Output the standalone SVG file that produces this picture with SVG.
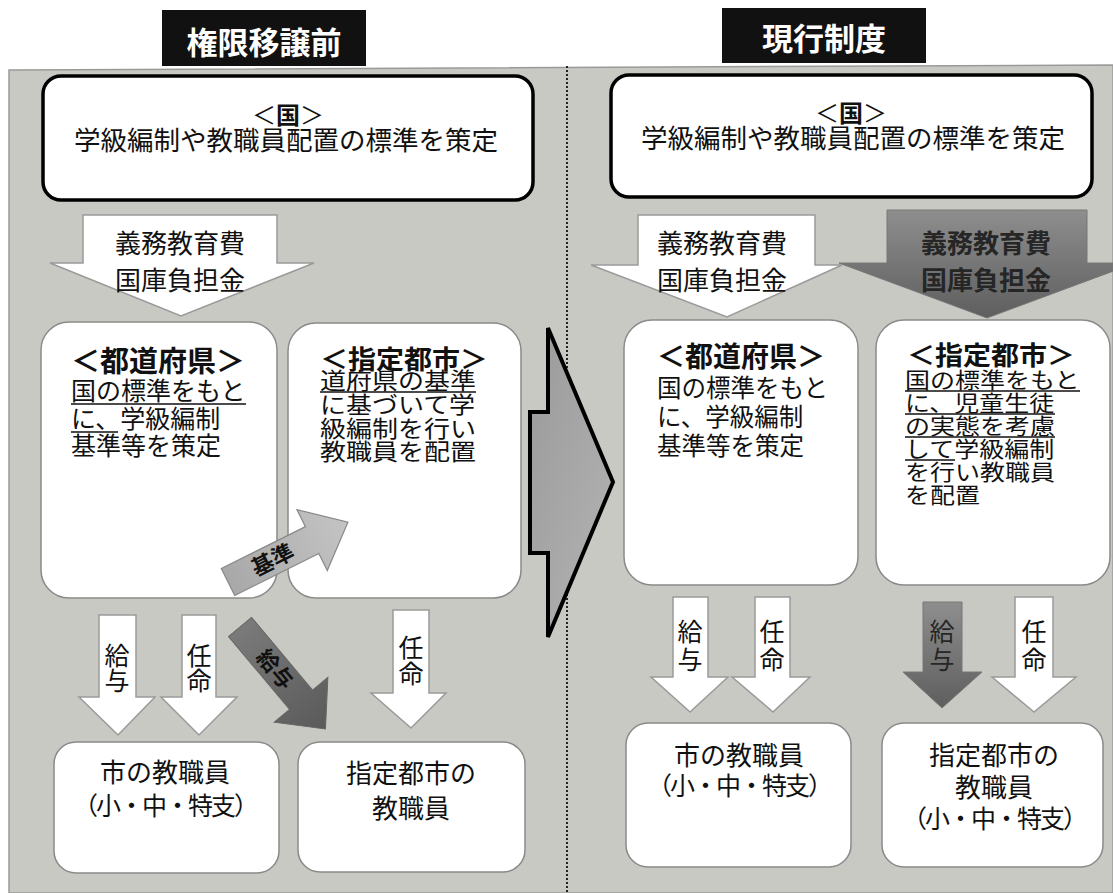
<svg xmlns="http://www.w3.org/2000/svg" width="1113" height="893" viewBox="0 0 1113 893">
<defs>
<linearGradient id="darkV" x1="0" y1="0" x2="0" y2="1"><stop offset="0" stop-color="#8e8e8e"/><stop offset="1" stop-color="#5e5e5e"/></linearGradient>
<linearGradient id="darkH" x1="0" y1="0" x2="1" y2="0"><stop offset="0" stop-color="#7a7a7a"/><stop offset="1" stop-color="#5a5a5a"/></linearGradient>
<linearGradient id="lightH" x1="0" y1="0" x2="1" y2="0"><stop offset="0" stop-color="#a8a8a8"/><stop offset="1" stop-color="#c4c4c4"/></linearGradient>
<linearGradient id="bigA" x1="0" y1="0" x2="1" y2="1"><stop offset="0" stop-color="#9a9a9a"/><stop offset="1" stop-color="#b4b4b4"/></linearGradient>
<style>
text{font-family:'Noto Sans CJK JP','Noto Sans CJK SC',sans-serif;fill:#111}
.title{fill:#fff;font-weight:700;font-size:31px;text-anchor:middle}
.kuni{stroke:#000;stroke-width:3.5;fill:#fff}
.box{stroke:#8a8a8a;stroke-width:1.5;fill:#fff}
.warr{fill:#fff;stroke:#9a9a9a;stroke-width:1.5}
.darr{fill:url(#darkV);stroke:#777;stroke-width:1}
.c{text-anchor:middle}
.ul{stroke:#111;stroke-width:1.5}
</style>
</defs>
<rect width="1113" height="893" fill="#fff"/>
<polygon points="9,70 1113,65 1113,893 9,893" fill="#c9c9c4" stroke="#9a9a9a" stroke-width="1.5"/>
<line x1="567" y1="66" x2="567" y2="893" stroke="#222" stroke-width="2" stroke-dasharray="2 2"/>

<g id="title-left"><rect x="162" y="10" width="204" height="56" fill="#111"/><text class="title" x="264" y="54">権限移譲前</text></g>
<g id="title-right"><rect x="722" y="8" width="204" height="55" fill="#111"/><text class="title" x="824" y="50">現行制度</text></g>

<g id="kuni-left"><rect class="kuni" x="43" y="76" width="490" height="124" rx="18"/>
<text class="c" x="288" y="124" font-size="24">＜<tspan font-weight="700">国</tspan>＞</text>
<text class="c" x="286" y="150" font-size="26.5">学級編制や教職員配置の標準を策定</text></g>
<g id="kuni-right"><rect class="kuni" x="611" y="75" width="481" height="122" rx="18"/>
<text class="c" x="851" y="122" font-size="24">＜<tspan font-weight="700">国</tspan>＞</text>
<text class="c" x="853" y="148" font-size="26.5">学級編制や教職員配置の標準を策定</text></g>

<g id="pref-left"><rect class="box" x="41" y="322" width="236" height="276" rx="28"/>
<text x="71" y="372" font-size="29" font-weight="700">＜都道府県＞</text>
<text x="71" y="400" font-size="25">国の標準をもと</text>
<text x="71" y="428" font-size="25">に、学級編制</text>
<text x="71" y="455" font-size="25">基準等を策定</text>
<line class="ul" x1="71" y1="404" x2="246" y2="404"/><line class="ul" x1="71" y1="432" x2="118" y2="432"/></g>

<g id="city-left"><rect class="box" x="288" y="323" width="233" height="275" rx="28"/>
<text transform="translate(320,369) scale(1,0.92)" font-size="28" font-weight="700">＜指定都市＞</text>
<text transform="translate(320,389) scale(1,0.88)" font-size="26">道府県の基準</text>
<text transform="translate(320,413) scale(1,0.88)" font-size="26">に基づいて学</text>
<text transform="translate(320,437) scale(1,0.88)" font-size="26">級編制を行い</text>
<text transform="translate(320,460) scale(1,0.88)" font-size="26">教職員を配置</text>
<line class="ul" x1="320" y1="392" x2="476" y2="392"/></g>

<g id="pref-right"><rect class="box" x="624" y="320" width="234" height="265" rx="28"/>
<text x="657" y="367" font-size="28" font-weight="700">＜都道府県＞</text>
<text x="657" y="397" font-size="24.5">国の標準をもと</text>
<text x="657" y="426" font-size="24.5">に、学級編制</text>
<text x="657" y="455" font-size="24.5">基準等を策定</text></g>

<g id="city-right"><rect class="box" x="876" y="320" width="234" height="265" rx="28"/>
<text transform="translate(907,365) scale(1,0.92)" font-size="28" font-weight="700">＜指定都市＞</text>
<text transform="translate(905,388) scale(1,0.86)" font-size="25">国の標準をもと</text>
<text transform="translate(905,411) scale(1,0.86)" font-size="25">に、児童生徒</text>
<text transform="translate(905,434) scale(1,0.86)" font-size="25">の実態を考慮</text>
<text transform="translate(905,457) scale(1,0.86)" font-size="25">して学級編制</text>
<text transform="translate(905,480) scale(1,0.86)" font-size="25">を行い教職員</text>
<text transform="translate(905,503) scale(1,0.86)" font-size="25">を配置</text>
<line class="ul" x1="905" y1="391" x2="1080" y2="391"/><line class="ul" x1="905" y1="414" x2="1055" y2="414"/><line class="ul" x1="905" y1="437" x2="1055" y2="437"/><line class="ul" x1="905" y1="460" x2="955" y2="460"/></g>

<g id="staff-left"><rect class="box" x="54" y="742" width="225" height="131" rx="22"/>
<text class="c" x="165" y="782" font-size="26">市の教職員</text>
<text class="c" x="165" y="815" font-size="25" letter-spacing="-2">（小・中・特支）</text></g>
<g id="citystaff-left"><rect class="box" x="298" y="742" width="227" height="130" rx="22"/>
<text class="c" x="411" y="783" font-size="26">指定都市の</text>
<text class="c" x="411" y="818" font-size="26">教職員</text></g>
<g id="staff-right"><rect class="box" x="626" y="723" width="225" height="144" rx="22"/>
<text class="c" x="739" y="765" font-size="26">市の教職員</text>
<text class="c" x="739" y="795" font-size="25" letter-spacing="-2">（小・中・特支）</text></g>
<g id="citystaff-right"><rect class="box" x="882" y="723" width="221" height="144" rx="22"/>
<text class="c" x="994" y="765" font-size="26">指定都市の</text>
<text class="c" x="994" y="797" font-size="26">教職員</text>
<text class="c" x="994" y="828" font-size="25" letter-spacing="-2">（小・中・特支）</text></g>

<g id="connectors">
<path class="warr" d="M83,215 H277 V263 H314 L181,316 L50,263 H83 Z"/>
<text class="c" x="180" y="253" font-size="26">義務教育費</text>
<text class="c" x="180" y="290" font-size="26">国庫負担金</text>
<path class="darr" d="M887,210 H1087 V263 H1135 L987,318 L839,263 H887 Z"/>
<text class="c" x="986" y="253" font-size="26" font-weight="700" style="fill:#262626">義務教育費</text>
<text class="c" x="986" y="290" font-size="26" font-weight="700" style="fill:#262626">国庫負担金</text>
<path class="warr" d="M638,215 H815 V265 H842 L727,317 L591,265 H638 Z"/>
<text class="c" x="722" y="253" font-size="26">義務教育費</text>
<text class="c" x="722" y="290" font-size="26">国庫負担金</text>

<path d="M530,412 H548 V328 L613,482 L548,637 V553 H530 Z" fill="url(#bigA)" stroke="#000" stroke-width="4"/>

<g transform="translate(228,582) rotate(-26.5)"><path d="M0,-15 H94 V-34 L134,0 L94,34 V15 H0 Z" fill="url(#lightH)" stroke="#888" stroke-width="1.2"/><text class="c" x="50" y="8" font-size="22" font-weight="700">基準</text></g>

<path class="warr" d="M99,615 H136 V697 H155 L118,735 L79,697 H99 Z"/>
<text class="c" x="117" y="665" font-size="25">給</text><text class="c" x="117" y="690" font-size="25">与</text>
<path class="warr" d="M182,615 H216 V697 H237 L199,735 L161,697 H182 Z"/>
<text class="c" x="199" y="665" font-size="25">任</text><text class="c" x="199" y="690" font-size="25">命</text>
<g transform="translate(240,627) rotate(50)"><path d="M0,-15 H95 V-35 L133,0 L95,35 V15 H0 Z" fill="url(#darkH)" stroke="#666" stroke-width="1"/><text class="c" x="55" y="8" font-size="22" font-weight="700">給与</text></g>
<path class="warr" d="M393,610 H429 V693 H446 L411,728 L371,693 H393 Z"/>
<text class="c" x="411" y="657" font-size="25">任</text><text class="c" x="411" y="683" font-size="25">命</text>

<path class="warr" d="M673,597 H708 V677 H728 L690,712 L651,677 H673 Z"/>
<text class="c" x="690" y="641" font-size="25">給</text><text class="c" x="690" y="669" font-size="25">与</text>
<path class="warr" d="M755,597 H790 V677 H810 L773,712 L732,677 H755 Z"/>
<text class="c" x="772" y="641" font-size="25">任</text><text class="c" x="772" y="669" font-size="25">命</text>
<path class="darr" d="M923,602 H962 V672 H982 L942,708 L903,672 H923 Z"/>
<text class="c" x="942" y="641" font-size="25" style="fill:#262626">給</text><text class="c" x="942" y="669" font-size="25" style="fill:#262626">与</text>
<path class="warr" d="M1015,597 H1053 V677 H1076 L1034,712 L992,677 H1015 Z"/>
<text class="c" x="1034" y="641" font-size="25">任</text><text class="c" x="1034" y="669" font-size="25">命</text>
</g>
</svg>
